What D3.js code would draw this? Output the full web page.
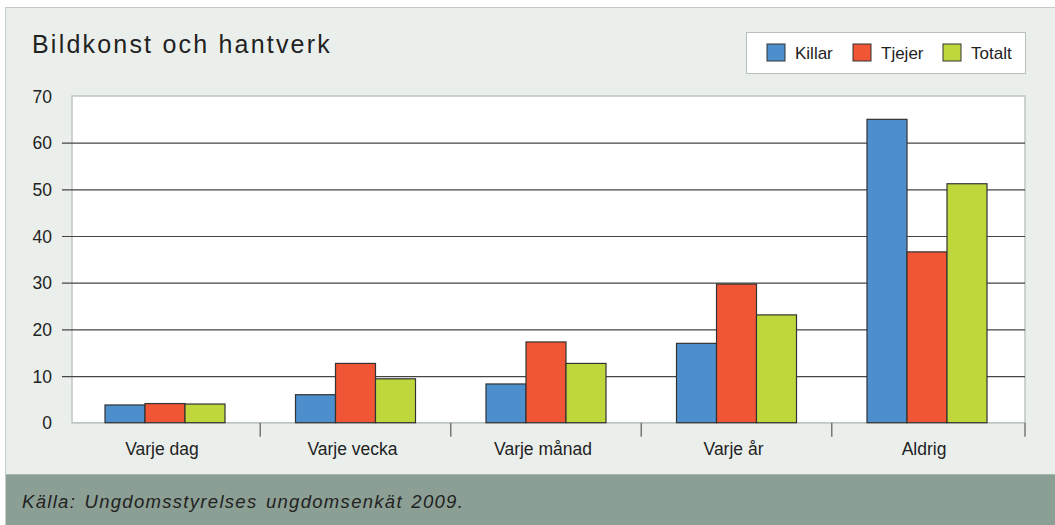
<!DOCTYPE html>
<html>
<head>
<meta charset="utf-8">
<script src="https://cdn.jsdelivr.net/npm/d3@7"></script>
<style>
  body { margin: 0; background: #fff; }
  svg text { font-family: "Liberation Sans", Arial, sans-serif; }
</style>
</head>
<body>
<div class="svg-container"></div>
<script>
// chart data
const categories = ['Varje dag', 'Varje vecka', 'Varje månad', 'Varje år', 'Aldrig'];
const seriesNames = ['Killar', 'Tjejer', 'Totalt'];
const killar = [3.8, 6.0, 8.3, 17.0, 65.0];
const tjejer = [4.1, 12.7, 17.3, 29.7, 36.6];
const totalt = [4.0, 9.4, 12.7, 23.1, 51.2];
const yTicks = [0, 10, 20, 30, 40, 50, 60, 70];

const colors = ['#4d8fcc', '#f05536', '#c0d73c'];
const width = 1055;
const height = 525;
const margin = { top: 96, right: 30, bottom: 102, left: 72 };

const data = categories.map((c, i) => ({ category: c, values: [killar[i], tjejer[i], totalt[i]] }));

const svg = d3.select('.svg-container')
    .append('svg')
    .attr('width', width)
    .attr('height', height);

// panel background
svg.append('rect')
    .attr('x', 5.5).attr('y', 7.5)
    .attr('width', width - 5).attr('height', height - 7)
    .attr('fill', '#ebefec')
    .attr('stroke', '#c3cbc6');

// footer band
svg.append('rect')
    .attr('x', 6).attr('y', 474)
    .attr('width', width - 6).attr('height', height - 474)
    .attr('fill', '#8c9f94');
svg.append('line')
    .attr('x1', 6).attr('x2', width)
    .attr('y1', 474.5).attr('y2', 474.5)
    .attr('stroke', '#a9b8ae');

svg.append('text')
    .attr('x', 22).attr('y', 508)
    .style('font-size', '18.5px')
    .style('font-style', 'italic')
    .style('letter-spacing', '1.3px')
    .style('word-spacing', '2px')
    .attr('fill', '#222')
    .text('Källa: Ungdomsstyrelses ungdomsenkät 2009.');

// title
svg.append('text')
    .attr('x', 32).attr('y', 53)
    .style('font-size', '25px')
    .style('letter-spacing', '2.2px')
    .attr('fill', '#222')
    .text('Bildkonst och hantverk');

const plotW = width - margin.left - margin.right;
const plotH = height - margin.top - margin.bottom - 0.3;

// groups sit a little left of the plot's equal split
const x0 = d3.scaleBand().domain(categories).range([-2.25, plotW - 2.75]);
const x1 = d3.scaleBand().domain(seriesNames).range([0, 120]);
const y = d3.scaleLinear().domain([0, 70]).range([plotH, 0]);

const g = svg.append('g')
    .attr('transform', `translate(${margin.left},${margin.top})`);

// plot area
g.append('rect')
    .attr('x', 0).attr('y', 0)
    .attr('width', plotW).attr('height', plotH)
    .attr('fill', '#fff')
    .attr('stroke', '#bfc6c2')
    .attr('stroke-width', 1.5);

// gridlines and y labels
const yAxis = g.append('g')
    .call(d3.axisLeft(y).tickValues(yTicks).tickSize(-plotW - 10).tickFormat(d3.format('d')));
yAxis.select('.domain').remove();
yAxis.selectAll('.tick line')
    .attr('x1', -10)
    .attr('x2', plotW)
    .attr('stroke', '#444')
    .attr('stroke-width', 1.2)
    .filter((d) => d === 0 || d === 70)
    .remove();
yAxis.selectAll('.tick text')
    .attr('x', -20)
    .attr('dy', '0.35em')
    .style('font-size', '17.5px')
    .attr('fill', '#222');

// x axis
const xAxis = g.append('g')
    .attr('transform', `translate(0,${plotH})`)
    .call(d3.axisBottom(x0).tickSize(0));
xAxis.select('.domain').remove();
g.append('line')
    .attr('x1', 0).attr('x2', plotW)
    .attr('y1', plotH).attr('y2', plotH)
    .attr('stroke', '#bfc6c2')
    .attr('stroke-width', 1.5);
xAxis.selectAll('.tick text')
    .attr('dy', 0)
    .attr('y', 32)
    .attr('x', -3)
    .style('font-size', '17.5px')
    .attr('fill', '#222');

// category separators
const sepX = categories.slice(1).map((c) => x0(c)).concat([plotW]);
g.append('g')
    .selectAll('line')
    .data(sepX)
    .enter()
    .append('line')
    .attr('x1', (d) => d)
    .attr('x2', (d) => d)
    .attr('y1', plotH)
    .attr('y2', plotH + 14)
    .attr('stroke', '#777')
    .attr('stroke-width', 1.5);

// bars
const groups = g.selectAll('.group')
    .data(data)
    .enter()
    .append('g')
    .attr('class', 'group')
    .attr('transform', (d) => `translate(${x0(d.category) + x0.bandwidth() / 2 - 60},0)`);

groups.selectAll('rect')
    .data((d) => d.values.map((v, i) => ({ name: seriesNames[i], value: v, i: i })))
    .enter()
    .append('rect')
    .attr('x', (d) => x1(d.name))
    .attr('width', x1.bandwidth())
    .attr('y', (d) => y(d.value))
    .attr('height', (d) => plotH - y(d.value))
    .attr('fill', (d) => colors[d.i])
    .attr('stroke', '#333')
    .attr('stroke-width', 1.2);

// legend
const legend = svg.append('g');
legend.append('rect')
    .attr('x', 746.5).attr('y', 32.5)
    .attr('width', 279).attr('height', 41)
    .attr('fill', '#fff')
    .attr('stroke', '#b8c0bb');
const legendX = [767, 853, 943];
seriesNames.forEach((name, i) => {
    legend.append('rect')
        .attr('x', legendX[i]).attr('y', 44)
        .attr('width', 18).attr('height', 17)
        .attr('fill', colors[i])
        .attr('stroke', '#333')
        .attr('stroke-width', 1);
    legend.append('text')
        .attr('x', legendX[i] + 28).attr('y', 59)
        .style('font-size', '17px')
        .attr('fill', '#222')
        .text(name);
});
</script>
</body>
</html>
